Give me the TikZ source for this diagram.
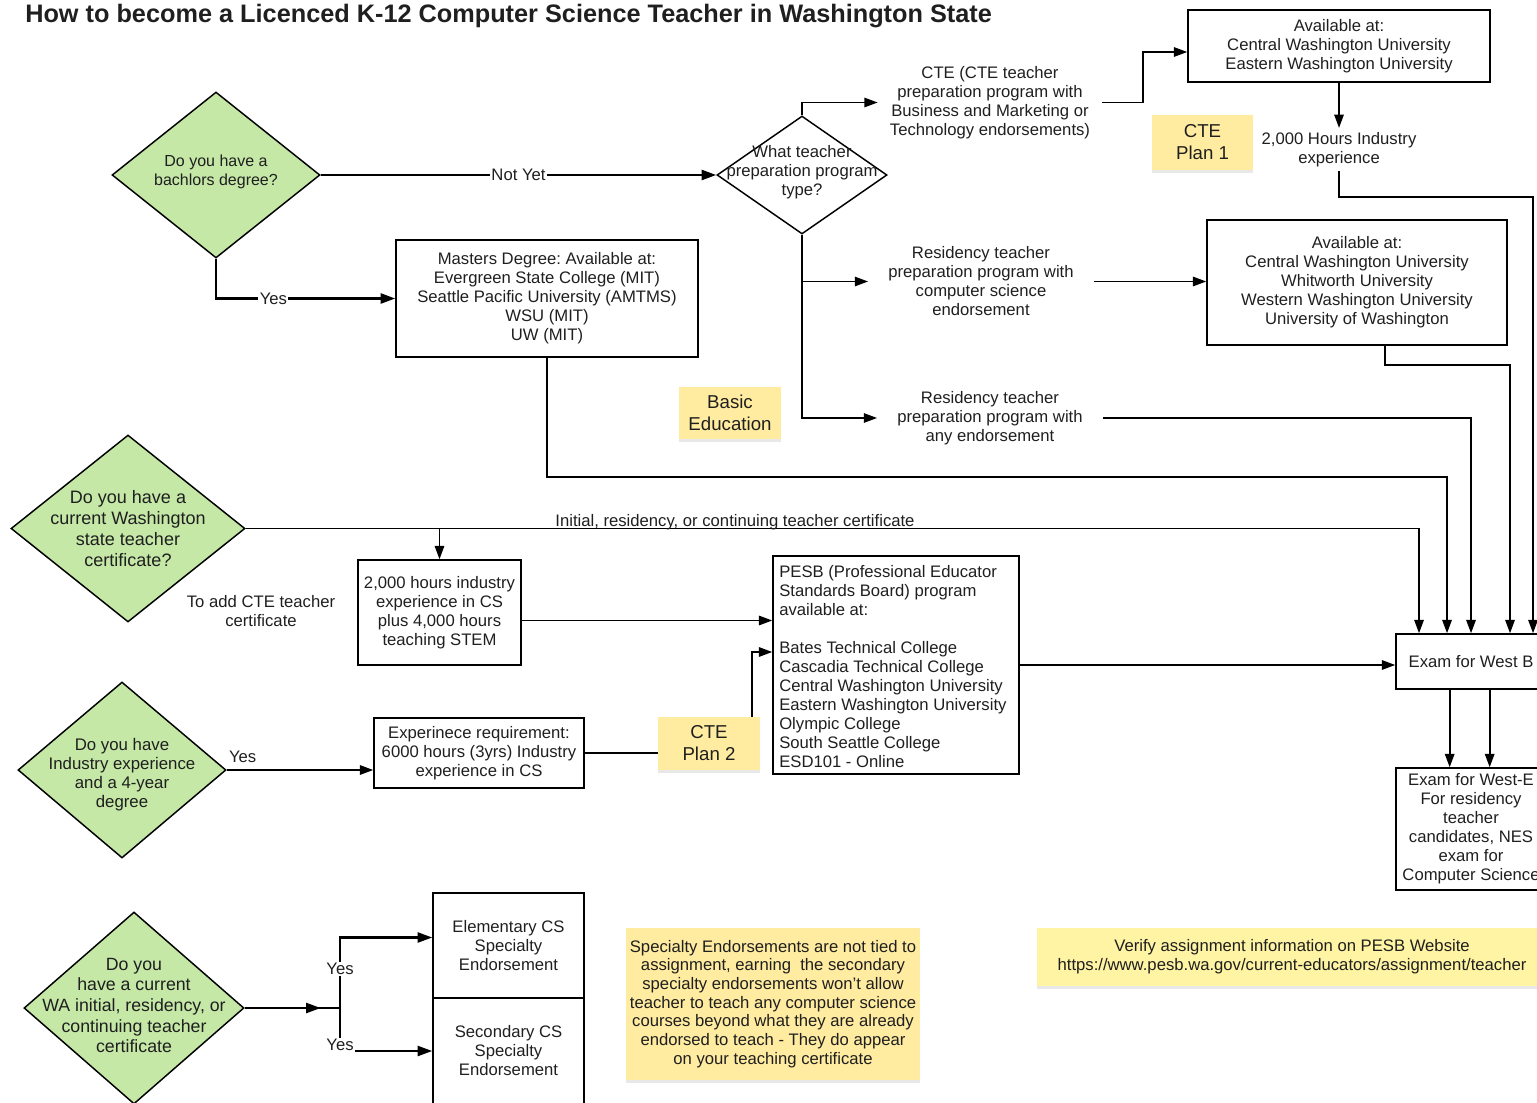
\documentclass[tikz,border=0pt]{standalone}
\usepackage{graphicx}
\usepackage{fontspec}
\setmainfont{Liberation Sans}
\usetikzlibrary{shapes.geometric,arrows.meta,shadows}
\definecolor{dgreen}{RGB}{197,232,167}
\definecolor{nyel}{RGB}{255,236,160}
\definecolor{nyel2}{RGB}{255,244,163}
\newcommand{\fsn}{\fontsize{12.5}{14.25}\selectfont}
\newcommand{\fsbig}{\fontsize{14}{16.5}\selectfont}
\frenchspacing
\begin{document}
\begin{tikzpicture}[x=0.75pt,y=-0.75pt,
  every node/.style={font=\fsn, text=black!88},
  box/.style 2 args={draw, line width=1.1pt, minimum width={#1*0.75pt}, minimum height={#2*0.75pt}, align=center, inner sep=0pt},
  dia/.style 2 args={diamond, draw, line width=1.1pt, fill=dgreen, minimum width={#1*0.75pt}, minimum height={#2*0.75pt}, inner sep=0pt},
  note/.style 2 args={fill=nyel, minimum width={#1*0.75pt}, minimum height={#2*0.75pt}, align=center, inner sep=0pt, drop shadow={shadow xshift=0pt, shadow yshift=-2.5pt, opacity=0.18}},
  dtext/.style={align=center, inner sep=0pt},
  plain/.style={align=center, inner xsep=9pt, inner ysep=3pt},
  conn/.style={line width=1.4pt},
  arr/.style={conn, -{Triangle[length=10pt,width=7pt]}},
  thickconn/.style={line width=1.8pt},
  arrT/.style={thickconn, -{Triangle[length=11pt,width=7.5pt]}},
  lab/.style={fill=white, inner sep=1pt},
]
\useasboundingbox (0,0) rectangle (1537,1102);
\clip (0,0) rectangle (1537,1102);

% title
\node[anchor=base west, inner sep=0pt] (title) at (25,22.5) {\resizebox{725pt}{!}{\fontsize{16}{19}\selectfont\bfseries How to become a Licenced K-12 Computer Science Teacher in Washington State}};

% top section
\node[dia={208}{166}] (d1) at (216,175) {};
\node[dtext, font=\fontsize{12}{14.25}\selectfont] (d1t) at (216,172) {Do you have a\\bachlors degree?};

\node[dia={170}{118}, fill=white] (d2) at (802,175) {};
\node[dtext] (d2t) at (802,172) {What teacher\\preparation program\\type?};

\node[plain] (cte) at (990,102.5) {CTE (CTE teacher\\preparation program with\\Business and Marketing or\\Technology endorsements)};
\node[box={302}{72}] (avail1) at (1339,46) {Available at:\\Central Washington University\\Eastern Washington University};
\node[note={101}{55}, font=\fsbig] (plan1) at (1202.5,142.5) {CTE\\Plan 1};
\node[plain] (hours) at (1339,149.5) {2,000 Hours Industry\\experience};

\node[plain, inner xsep=15pt] (res1) at (981,281.5) {Residency teacher\\preparation program with\\computer science\\endorsement};
\node[box={300}{125}] (avail2) at (1357,282.5) {Available at:\\Central Washington University\\Whitworth University\\Western Washington University\\University of Washington};
\node[plain, inner xsep=15pt] (res2) at (990,418) {Residency teacher\\preparation program with\\any endorsement};

\node[box={302}{117}] (masters) at (547,298.5) {Masters Degree: Available at:\\Evergreen State College (MIT)\\Seattle Pacific University (AMTMS)\\WSU (MIT)\\UW (MIT)};
\node[note={102}{52}, font=\fsbig] (basic) at (730,413) {Basic\\Education};

% middle section
\node[dia={234}{187}] (d3) at (128,528.5) {};
\node[dtext, font=\fontsize{13.5}{15.75}\selectfont] (d3t) at (128,528.5) {Do you have a\\current Washington\\state teacher\\certificate?};
\node[box={163}{105}] (stem) at (439.5,612.5) {2,000 hours industry\\experience in CS\\plus 4,000 hours\\teaching STEM};
\node[dtext] (addcte) at (261,611) {To add CTE teacher\\certificate};
\node[box={246}{218}] (pesb) at (896,665) {};
\node[align=left, anchor=north west, inner sep=0pt] (pesbt) at (779,565) {PESB (Professional Educator\\Standards Board) program\\available at:\\[14.25pt]Bates Technical College\\Cascadia Technical College\\Central Washington University\\Eastern Washington University\\Olympic College\\South Seattle College\\ESD101 - Online};

\node[box={150}{55}] (exam) at (1471,661.5) {Exam for West B};
\node[box={150}{122}] (exam2) at (1471,829) {Exam for West-E\\For residency\\teacher\\candidates, NES\\exam for\\Computer Science};

\node[dia={208}{176}] (d4) at (122,770) {};
\node[dtext, font=\fontsize{12.6}{14.25}\selectfont] (d4t) at (122,775) {Do you have\\Industry experience\\and a 4-year\\degree};
\node[box={210}{70}] (exper) at (479,753) {Experinece requirement:\\6000 hours (3yrs) Industry\\experience in CS};
\node[note={102}{53}, font=\fsbig] (plan2) at (709,743.5) {CTE\\Plan 2};

% bottom section
\node[dia={220}{192}] (d5) at (134,1008) {};
\node[dtext, font=\fontsize{13.3}{15.5}\selectfont] (d5t) at (134,1005.5) {Do you\\have a current\\WA initial, residency, or\\continuing teacher\\certificate};
\node[box={151}{105}] (elem) at (508.5,945.5) {Elementary CS\\Specialty\\Endorsement};
\node[box={151}{106}] (sec) at (508.5,1051) {Secondary CS\\Specialty\\Endorsement};
\node[note={294}{152}, font=\fontsize{12.5}{14}\selectfont] (spec) at (773,1004) {Specialty Endorsements are not tied to\\assignment, earning \ the secondary\\specialty endorsements won\symbol{39}t allow\\teacher to teach any computer science\\courses beyond what they are already\\endorsed to teach - They do appear\\on your teaching certificate};
\node[note={510}{58}, fill=nyel2] (verify) at (1292,957) {Verify assignment information on PESB Website\\https://www.pesb.wa.gov/current-educators/assignment/teacher};

% lane coordinates
\coordinate (lane5) at (1533,197);
\coordinate (lane4) at (1510,365);
\coordinate (lane2) at (1447,477);
\coordinate (lane1) at (1419,528.5);
\coordinate (br5) at (340,1008);

% connectors
\draw[arrT] (d1.east) -- node[lab]{Not Yet} (d2.west);
\draw[arrT] (d1.south) |- node[lab, pos=0.66]{Yes} (masters.west);
\draw[arr] (d2.north) |- (cte.west);
\draw[arr] (cte.east) -- ++(41,0) |- ([yshift=-4.5pt]avail1.west);
\draw[arr] (avail1.south) -- (hours.north);
\draw[arr] (hours.south) |- (lane5) -- (lane5 |- exam.north);
\draw[arr] (d2.south |- res1.west) -- (res1.west);
\draw[arr] (d2.south) |- (res2.west);
\draw[arr] (res1.east) -- (res1.east -| avail2.west);
\draw[arr] ([xshift=21pt]avail2.south) |- (lane4) -- (lane4 |- exam.north);
\draw[arr] (res2.east) -| (exam.north);
\draw[arr] (masters.south) |- (lane2) -- (lane2 |- exam.north);
\draw[arr] (d3.east) -- node[pos=0.417, anchor=south, inner sep=0pt, yshift=-2pt]{Initial, residency, or continuing teacher certificate} (lane1) -- (lane1 |- exam.north);
\draw[arr] (d3.east -| stem.north) -- (stem.north);
\draw[arr] ([yshift=-6pt]stem.east) -- ([yshift=-6pt]stem.east -| pesb.west);
\draw[arr] (pesb.east) -- (pesb.east -| exam.west);
\draw[arr] ([xshift=-16pt]exam.south) -- ([xshift=-16pt]exam2.north);
\draw[arr] ([xshift=14pt]exam.south) -- ([xshift=14pt]exam2.north);
\draw[arr] (d4.east) -- node[pos=0, anchor=south west, inner sep=1pt, yshift=4pt]{Yes} (d4.east -| exper.west);
\draw[conn] (exper.east) -- (exper.east -| plan2.west);
\draw[arr] ([xshift=32pt]plan2.north) |- ([yshift=9.75pt]pesb.west);
\draw[thickconn] (d5.east) -- (br5);
\draw[arrT] (d5.east) -- ++(76,0);
\draw[arrT] (br5) |- node[lab, pos=0.275]{Yes} ([yshift=6pt]elem.west);
\draw[arrT] (br5) |- node[lab, pos=0.43]{Yes} (sec.west);
\end{tikzpicture}
\end{document}
